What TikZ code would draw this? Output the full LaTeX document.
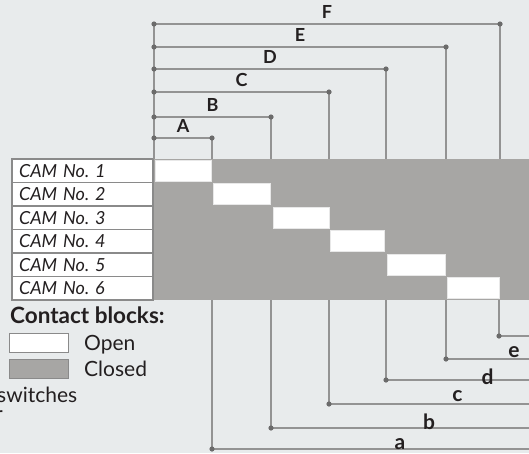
\documentclass[tikz,border=0pt]{standalone}
\usepackage{fontspec}
\setmainfont{Lato}
\usetikzlibrary{positioning}

\definecolor{bgpaper}{HTML}{E8EBEC}
\definecolor{camgray}{HTML}{A7A6A4}
\definecolor{framegray}{HTML}{8A8A8A}
\definecolor{dimgray}{HTML}{939393}
\definecolor{dotgray}{HTML}{6B6B6B}
\definecolor{inkdark}{HTML}{231F20}

\newcommand{\camfont}{\fontsize{18}{20}\selectfont\itshape}
\newcommand{\captagfont}{\fontsize{18}{20}\selectfont\bfseries}
\newcommand{\lowtagfont}{\fontsize{21}{24}\selectfont\bfseries}
\newcommand{\headfont}{\fontsize{22.5}{26}\selectfont\bfseries}
\newcommand{\keyfont}{\fontsize{21}{24}\selectfont}

\begin{document}
\begin{tikzpicture}[x=1pt,y=-1pt,text=inkdark]
\tikzstyle{camrow} = [rectangle, draw=framegray, line width=1.2pt, fill=white,
text width=127pt, align=left, inner xsep=7pt, inner ysep=0pt,
minimum height=23.5pt, outer sep=0pt, anchor=north west, font=\camfont]
\tikzstyle{openblock} = [rectangle, draw=white!80!framegray, line width=0.6pt,
fill=white, minimum height=21pt, inner sep=0pt]
\tikzstyle{keybox} = [rectangle, draw=framegray, line width=1pt,
minimum width=59pt, minimum height=19pt, anchor=north west, inner sep=0pt]
\tikzstyle{keytext} = [font=\keyfont, inner sep=0pt, text depth=0pt]
\tikzstyle{dim} = [draw=dimgray, line width=1.6pt]
\tikzstyle{captag} = [font=\captagfont, above=1pt]
\tikzstyle{lowtag} = [font=\lowtagfont, below=6pt]

\useasboundingbox (0,0) rectangle (529,453);
\clip (0,0) rectangle (529,453);
\fill[bgpaper] (0,0) rectangle (529,453);

% cam table
\fill[camgray] (153,159) rectangle (529,300);
\node[camrow] (cam1) at (12,159) {CAM No.\ 1};
\node[camrow, below=0pt of cam1] (cam2) {CAM No.\ 2};
\node[camrow, below=0pt of cam2] (cam3) {CAM No.\ 3};
\node[camrow, below=0pt of cam3] (cam4) {CAM No.\ 4};
\node[camrow, below=0pt of cam4] (cam5) {CAM No.\ 5};
\node[camrow, below=0pt of cam5] (cam6) {CAM No.\ 6};

% open contacts
\node[openblock, minimum width=56pt] (open1) at (183,170.75) {};
\node[openblock, minimum width=57pt] (open2) at (241.5,194.25) {};
\node[openblock, minimum width=56pt] (open3) at (301,217.75) {};
\node[openblock, minimum width=54pt] (open4) at (357,241.25) {};
\node[openblock, minimum width=58pt] (open5) at (416,264.75) {};
\node[openblock, minimum width=52pt] (open6) at (473,288.25) {};

% upper dimension lines
\coordinate (A0) at (154,138); \coordinate (A1) at (212,138);
\coordinate (B0) at (154,117); \coordinate (B1) at (271,117);
\coordinate (C0) at (154,92);  \coordinate (C1) at (329,92);
\coordinate (D0) at (154,69);  \coordinate (D1) at (386,69);
\coordinate (E0) at (154,47);  \coordinate (E1) at (446,47);
\coordinate (F0) at (154,24);  \coordinate (F1) at (500,24);

\draw[dim] (F0) -- (F0 |- cam1.north);
\draw[dim] (A0) -- node[captag] {A} (A1) -- (A1 |- cam1.north);
\draw[dim] (B0) -- node[captag] {B} (B1) -- (B1 |- cam1.north);
\draw[dim] (C0) -- node[captag] {C} (C1) -- (C1 |- cam1.north);
\draw[dim] (D0) -- node[captag] {D} (D1) -- (D1 |- cam1.north);
\draw[dim] (E0) -- node[captag] {E} (E1) -- (E1 |- cam1.north);
\draw[dim] (F0) -- node[captag] {F} (F1) -- (F1 |- cam1.north);

% lower dimension lines
\coordinate (n0) at (212,449); \coordinate (n1) at (529,449);
\coordinate (a0) at (271,428); \coordinate (a1) at (529,428);
\coordinate (b0) at (329,404); \coordinate (b1) at (529,404);
\coordinate (c0) at (386,380); \coordinate (c1) at (529,380);
\coordinate (d0) at (446,359); \coordinate (d1) at (529,359);
\coordinate (e0) at (499,336); \coordinate (e1) at (529,336);

\draw[dim] (n0 |- cam6.south) -- (n0) -- (n1);
\draw[dim] (a0 |- cam6.south) -- (a0) -- node[lowtag] {a} (a1);
\draw[dim] (b0 |- cam6.south) -- (b0) -- node[lowtag] {b} (b1);
\draw[dim] (c0 |- cam6.south) -- (c0) -- node[lowtag] {c} (c1);
\draw[dim] (d0 |- cam6.south) -- (d0) -- node[lowtag] {d} (d1);
\draw[dim] (e0 |- cam6.south) -- (e0) -- node[lowtag] {e} (e1);

\foreach \p in {A0,A1,B0,B1,C0,C1,D0,D1,E0,E1,F0,F1,n0,a0,b0,c0,d0,e0}
  \fill[dotgray] (\p) circle (2.6);

% legend
\node[font=\headfont, anchor=base west, inner sep=0pt] (legend) at (10,323) {Contact blocks:};
\node[keybox, fill=white] (keyopen) at (9,333) {};
\node[keybox, fill=camgray] (keyclosed) at (9,359) {};
\node[keytext, right=15pt of keyopen] (opentxt) {Open};
\node[keytext, right=15pt of keyclosed] (closedtxt) {Closed};
\node[keytext, anchor=base west] (switchtxt) at (-3,402) {switches};
\node[keytext, anchor=base east] (cuttxt) at (3,421) {r};

\end{tikzpicture}
\end{document}
